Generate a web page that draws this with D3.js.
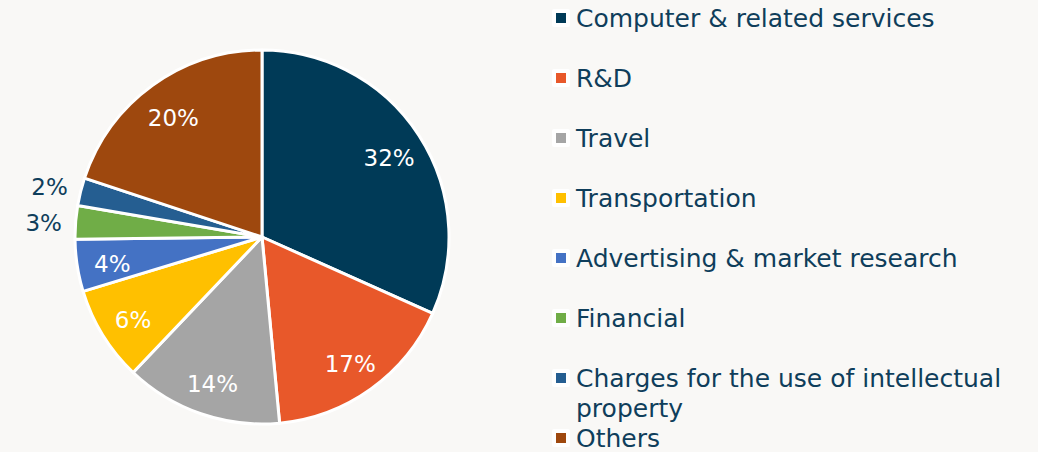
<!DOCTYPE html>
<html>
<head>
<meta charset="utf-8">
<script src="https://cdn.jsdelivr.net/npm/d3@7"></script>
<style>
  body { margin: 0; background: #f9f8f6; }
  svg { display: block; }
</style>
</head>
<body>
<div id="chart"></div>
<script>
const categories = [
    "Computer & related services",
    "R&D",
    "Travel",
    "Transportation",
    "Advertising & market research",
    "Financial",
    "Charges for the use of intellectual property",
    "Others"
];
// slice shares
const shares = [31.7, 16.8, 13.6, 8.2, 4.5, 2.9, 2.4, 19.9];
// printed data labels
const pctLabels = ["32%", "17%", "14%", "6%", "4%", "3%", "2%", "20%"];
const colours = ["#003a57", "#e8582a", "#a5a5a5", "#ffc000", "#4472c4", "#70ad47", "#255e91", "#9e480e"];

const width = 1038, height = 452;
const cx = 262, cy = 237, radius = 187;
const textColour = "#0f3e5b";
const font = "'DejaVu Sans', sans-serif";

const data = categories.map((c, i) => ({ name: c, value: shares[i], label: pctLabels[i], colour: colours[i] }));

const svg = d3.select("#chart")
    .append("svg")
        .attr("width", width)
        .attr("height", height)
        .style("background", "#f9f8f6");

const pie = d3.pie()
    .sort(null)
    .value(d => d.value);

const arc = d3.arc()
    .innerRadius(0)
    .outerRadius(radius);

const g = svg.append("g")
    .attr("transform", `translate(${cx},${cy})`);

const arcs = pie(data);

g.selectAll("path")
    .data(arcs)
    .enter().append("path")
        .attr("d", arc)
        .attr("fill", d => d.data.colour)
        .attr("stroke", "white")
        .attr("stroke-width", 3)
        .attr("stroke-linejoin", "round");

// small slices get their label outside
const inside = d3.arc().innerRadius(radius * 0.81).outerRadius(radius * 0.81);
const outside = d3.arc().innerRadius(radius + 32).outerRadius(radius + 32);

g.selectAll(".pct")
    .data(arcs)
    .enter().append("text")
        .attr("class", "pct")
        .attr("transform", d => {
            const small = d.data.value < 4;
            const [x, y] = (small ? outside : inside).centroid(d);
            return `translate(${x},${y})`;
        })
        .attr("text-anchor", "middle")
        .attr("dy", "0.5em")
        .style("font-family", font)
        .style("font-size", "23px")
        .style("fill", d => d.data.value < 4 ? textColour : "white")
        .text(d => d.data.label);

// legend
const legendX = 561, rowGap = 60, firstRow = 18, lineHeight = 30;
const maxChars = 36;

const wrap = s => {
    const words = s.split(" ");
    const lines = [];
    let cur = "";
    words.forEach(w => {
        const t = cur ? cur + " " + w : w;
        if (t.length > maxChars && cur) { lines.push(cur); cur = w; }
        else cur = t;
    });
    lines.push(cur);
    return lines;
};

let yPos = firstRow;
data.forEach(d => {
    const lines = wrap(d.name);
    const item = svg.append("g")
        .attr("class", "legend")
        .attr("transform", `translate(${legendX},${yPos})`);

    item.append("rect")
        .attr("x", -9).attr("y", -9)
        .attr("width", 18).attr("height", 18)
        .attr("rx", 2)
        .style("fill", "white");

    item.append("rect")
        .attr("x", -5).attr("y", -5)
        .attr("width", 10).attr("height", 10)
        .style("fill", d.colour);

    const txt = item.append("text")
        .attr("x", 15)
        .attr("y", 0)
        .style("font-family", font)
        .style("font-size", "25px")
        .style("fill", textColour);

    lines.forEach((l, j) => {
        txt.append("tspan")
            .attr("x", 15)
            .attr("dy", j === 0 ? "0.36em" : lineHeight)
            .text(l);
    });

    // the last row sits right below a wrapped item
    const next = lines.length > 1 ? (lines.length - 1) * lineHeight + 30 : rowGap;
    yPos += next;
});
</script>
</body>
</html>
